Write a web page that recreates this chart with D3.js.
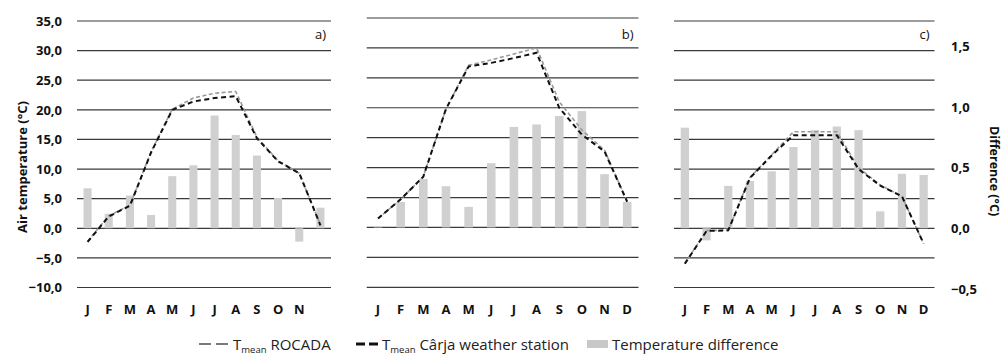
<!DOCTYPE html>
<html>
<head>
<meta charset="utf-8">
<script src="https://cdn.jsdelivr.net/npm/d3@7"></script>
<style>
  html, body { margin: 0; padding: 0; background: #fff; }
  svg { display: block; }
  text { font-family: "Open Sans", "Noto Sans", sans-serif; }
</style>
</head>
<body>
<svg id="chart" width="1002" height="354"></svg>
<script>
// Months and tick values
const months = ["J", "F", "M", "A", "M", "J", "J", "A", "S", "O", "N", "D"];
const monthLabelsA = ["J", "F", "M", "A", "M", "J", "J", "A", "S", "O", "N", ""];
const tempTicks = [-10, -5, 0, 5, 10, 15, 20, 25, 30, 35];
const diffTicks = [-0.5, 0, 0.5, 1.0, 1.5];

// Panel a)
const rocadaA = [-2.2, 2.1, 3.9, 12.9, 20.1, 22.0, 22.8, 23.1, 15.4, 11.4, 9.3, 0.6];
const carjaA  = [-2.3, 2.0, 3.8, 12.8, 20.0, 21.4, 22.0, 22.3, 15.2, 11.3, 9.3, 0.5];
const diffA   = [0.33, 0.12, 0.27, 0.11, 0.43, 0.52, 0.93, 0.77, 0.60, 0.25, -0.11, 0.17];

// Panel b)
const rocadaB = [1.5, 4.7, 8.5, 19.8, 27.1, 28.0, 29.0, 30.0, 21.0, 16.3, 12.9, 4.3];
const carjaB  = [1.5, 4.7, 8.5, 19.8, 26.9, 27.5, 28.3, 29.2, 20.0, 15.5, 12.7, 4.3];
const diffB   = [0.01, 0.21, 0.40, 0.34, 0.17, 0.53, 0.83, 0.85, 0.92, 0.96, 0.44, 0.21];

// Panel c)
const rocadaC = [-5.9, -0.4, -0.3, 8.6, 12.4, 16.3, 16.3, 16.3, 10.2, 7.3, 5.4, -2.6];
const carjaC  = [-6.0, -0.45, -0.35, 8.5, 12.3, 15.7, 15.7, 15.7, 10.0, 7.2, 5.4, -2.6];
const diffC   = [0.83, -0.10, 0.35, 0.39, 0.47, 0.67, 0.81, 0.84, 0.81, 0.14, 0.45, 0.44];

const svg = d3.select("#chart");

const panels = [
  { tag: "a)", labels: monthLabelsA, rocada: rocadaA, carja: carjaA, diff: diffA,
    x0: 77, x1: 331, yTop: 21, yBot: 287.5 },
  { tag: "b)", labels: months, rocada: rocadaB, carja: carjaB, diff: diffB,
    x0: 366.7, x1: 638.5, yTop: 18, yBot: 287.3 },
  { tag: "c)", labels: months, rocada: rocadaC, carja: carjaC, diff: diffC,
    x0: 674, x1: 934.5, yTop: 21, yBot: 287.5 }
];

const diffPxPerUnit = 121.2;

panels.forEach((p, pi) => {
  const g = svg.append("g");
  const x = d3.scalePoint().domain(d3.range(12)).range([p.x0, p.x1]).padding(0.5);
  const y = d3.scaleLinear().domain([-10, 35]).range([p.yBot, p.yTop]);
  const y0 = y(0);
  const yd = d3.scaleLinear().domain([0, 1]).range([y0, y0 - diffPxPerUnit]);
  const barW = x.step() * 0.38;

  // Horizontal gridlines
  g.selectAll("line.grid").data(tempTicks).join("line")
    .attr("class", "grid")
    .attr("x1", p.x0).attr("x2", p.x1)
    .attr("y1", d => y(d)).attr("y2", d => y(d))
    .attr("stroke", "#3a3a3a").attr("stroke-width", 1.2);

  // Temperature difference bars
  g.selectAll("rect.bar").data(p.diff).join("rect")
    .attr("class", "bar")
    .attr("x", (d, i) => x(i) - barW / 2)
    .attr("width", barW)
    .attr("y", d => Math.min(yd(d), yd(0)))
    .attr("height", d => Math.abs(yd(d) - yd(0)))
    .attr("fill", "#d0d0d0");

  const line = d3.line().x((d, i) => x(i)).y(d => y(d));

  g.append("path").datum(p.rocada)
    .attr("d", line).attr("fill", "none")
    .attr("stroke", "#9a9a9a").attr("stroke-width", 1.6)
    .attr("stroke-dasharray", "4,2.5");

  g.append("path").datum(p.carja)
    .attr("d", line).attr("fill", "none")
    .attr("stroke", "#111").attr("stroke-width", 2)
    .attr("stroke-dasharray", "5,3.5");

  // Month labels
  g.selectAll("text.month").data(p.labels).join("text")
    .attr("class", "month")
    .attr("x", (d, i) => x(i)).attr("y", 313.5)
    .attr("text-anchor", "middle")
    .attr("font-size", 13).attr("font-weight", 700).attr("fill", "#111")
    .text(d => d);

  // Panel tag
  g.append("text")
    .attr("x", p.x1 - 5).attr("y", 38.5)
    .attr("text-anchor", "end")
    .attr("font-size", 13).attr("fill", "#111")
    .text(p.tag);

  if (pi === 0) {
    const axis = d3.axisLeft(y).tickValues(tempTicks).tickSize(0).tickPadding(0)
      .tickFormat(d => d3.format(".1f")(d).replace(".", ","));
    const ag = g.append("g").attr("transform", `translate(${62},0)`).call(axis);
    ag.select(".domain").remove();
    ag.selectAll("text").attr("font-size", 13).attr("font-weight", 700)
      .attr("fill", "#111").attr("font-family", "'Open Sans', sans-serif");
  }
  if (pi === 2) {
    const axisR = d3.axisRight(yd).tickValues(diffTicks).tickSize(0).tickPadding(0)
      .tickFormat(d => d3.format(".1f")(d).replace(".", ","));
    const ag = g.append("g").attr("transform", `translate(${951},0)`).call(axisR);
    ag.select(".domain").remove();
    ag.selectAll("text").attr("font-size", 13).attr("font-weight", 700)
      .attr("fill", "#111").attr("font-family", "'Open Sans', sans-serif");
  }
});

// Axis titles
svg.append("text")
  .attr("transform", "translate(27,167) rotate(-90)")
  .attr("text-anchor", "middle")
  .attr("font-size", 13).attr("font-weight", 700).attr("fill", "#111")
  .text("Air temperature (°C)");

svg.append("text")
  .attr("transform", "translate(990,171) rotate(90)")
  .attr("text-anchor", "middle")
  .attr("font-size", 12.5).attr("font-weight", 700).attr("fill", "#111")
  .text("Difference (°C)");

// Legend
const leg = svg.append("g");
const legY = 344;
leg.append("line").attr("x1", 199).attr("x2", 229).attr("y1", legY).attr("y2", legY)
  .attr("stroke", "#7a7a7a").attr("stroke-width", 2).attr("stroke-dasharray", "12,5");
leg.append("line").attr("x1", 356).attr("x2", 378).attr("y1", legY).attr("y2", legY)
  .attr("stroke", "#111").attr("stroke-width", 3).attr("stroke-dasharray", "9,4");
leg.append("rect").attr("x", 587).attr("y", legY - 4).attr("width", 21).attr("height", 8)
  .attr("fill", "#c8c8c8");

function tmeanLabel(xPos, rest) {
  const t = leg.append("text").attr("x", xPos).attr("y", legY + 5.5)
    .attr("font-size", 15).attr("fill", "#222");
  t.append("tspan").text("T");
  t.append("tspan").attr("font-size", 9.5).attr("dy", 3).text("mean");
  t.append("tspan").attr("dy", -3).text(" " + rest);
}
tmeanLabel(233, "ROCADA");
tmeanLabel(382, "Cârja weather station");
leg.append("text").attr("x", 612).attr("y", legY + 5.5)
  .attr("font-size", 15).attr("fill", "#222")
  .text("Temperature difference");
</script>
</body>
</html>
